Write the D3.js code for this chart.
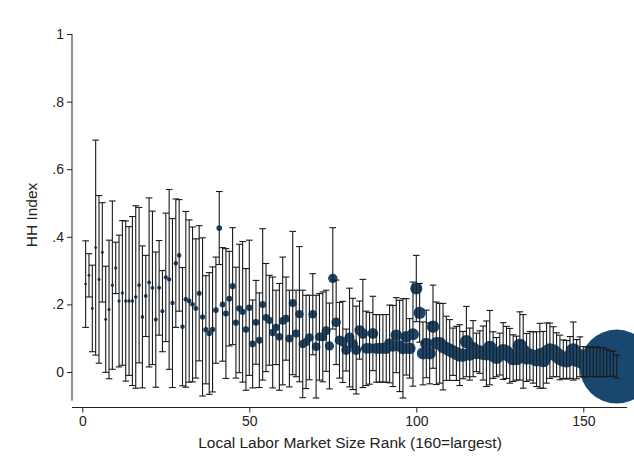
<!DOCTYPE html>
<html>
<head>
<meta charset="utf-8">
<script src="https://cdn.jsdelivr.net/npm/d3@7/dist/d3.min.js"></script>
<style>
  html, body { margin: 0; padding: 0; background: #fff; }
  svg { display: block; }
  text { font-family: "Liberation Sans", Arial, Helvetica, sans-serif; fill: #222; }
</style>
</head>
<body>
<svg id="chart" width="634" height="466"></svg>
<script>
// ---- data (rank 1..160) ----
const means = [
0.26,0.286,0.188,0.368,0.274,0.354,0.156,0.185,0.257,0.308,
0.21,0.234,0.21,0.21,0.21,0.222,0.257,0.163,0.225,0.265,
0.249,0.155,0.249,0.18,0.28,0.274,0.204,0.322,0.345,0.134,
0.215,0.21,0.2,0.188,0.233,0.163,0.125,0.114,0.126,0.183,
0.426,0.2,0.173,0.217,0.254,0.146,0.188,0.178,0.126,0.19,
0.083,0.147,0.094,0.2,0.161,0.153,0.117,0.132,0.104,0.151,
0.158,0.099,0.204,0.114,0.171,0.083,0.089,0.102,0.171,0.075,
0.104,0.104,0.122,0.077,0.277,0.147,0.094,0.089,0.065,0.102,
0.083,0.065,0.124,0.114,0.07,0.07,0.114,0.07,0.07,0.07,
0.07,0.083,0.077,0.109,0.077,0.07,0.104,0.07,0.112,0.247,
0.175,0.055,0.083,0.055,0.134,0.085,0.085,0.075,0.07,0.065,
0.06,0.055,0.05,0.05,0.09,0.053,0.069,0.058,0.059,0.056,
0.054,0.072,0.05,0.044,0.053,0.062,0.058,0.048,0.041,0.041,
0.077,0.061,0.043,0.048,0.043,0.038,0.048,0.036,0.056,0.063,
0.06,0.051,0.043,0.038,0.036,0.043,0.062,0.038,0.045,0.03,
0.03,0.031,0.03,0.03,0.029,0.029,0.027,0.025,0.024,0.016
];
// half-width of the confidence interval
const halfWidths = [
0.128,0.064,0.128,0.318,0.248,0.147,0.157,0.205,0.249,0.076,
0.195,0.214,0.237,0.22,0.25,0.27,0.23,0.21,0.12,0.25,
0.227,0.2,0.14,0.12,0.19,0.266,0.25,0.19,0.165,0.175,
0.26,0.24,0.229,0.206,0.2,0.234,0.16,0.18,0.185,0.157,
0.108,0.168,0.192,0.14,0.173,0.164,0.19,0.208,0.18,0.2,
0.13,0.124,0.14,0.224,0.16,0.133,0.164,0.11,0.158,0.189,
0.123,0.143,0.212,0.128,0.2,0.159,0.138,0.125,0.12,0.152,
0.128,0.133,0.12,0.127,0.15,0.125,0.112,0.12,0.062,0.146,
0.135,0.13,0.086,0.16,0.11,0.106,0.11,0.1,0.1,0.1,
0.1,0.115,0.12,0.111,0.135,0.147,0.113,0.088,0.154,0.098,
0.087,0.093,0.1,0.09,0.123,0.122,0.118,0.128,0.095,0.09,
0.07,0.08,0.09,0.07,0.104,0.077,0.083,0.057,0.063,0.08,
0.097,0.11,0.069,0.058,0.062,0.084,0.077,0.081,0.069,0.065,
0.101,0.109,0.071,0.072,0.076,0.081,0.096,0.084,0.089,0.082,
0.074,0.065,0.066,0.057,0.057,0.062,0.086,0.058,0.059,0.045,
0.044,0.044,0.043,0.044,0.043,0.043,0.04,0.038,0.037,0.034
];
// relative market size (marker area weight)
const weights = [
2.0,2.1,2.1,2.2,2.3,2.3,2.4,2.5,2.5,2.6,
2.7,2.8,2.9,3.0,3.1,3.2,3.3,3.4,3.6,3.7,
3.8,4.0,4.1,4.3,4.4,4.6,4.8,5.0,5.2,5.4,
5.6,5.8,6.0,6.2,6.5,6.7,7.0,7.2,7.5,7.8,
8.1,8.4,8.7,9.0,9.3,9.6,10,10.3,10.6,11,
11.3,11.7,12,12.4,12.8,13.2,13.6,14,14.4,14.8,
15.2,15.6,16,16.4,16.9,17.3,17.8,18.2,18.7,19.2,
19.7,20.2,20.7,21.2,21.8,22.3,22.9,23.4,24,24.6,
25.2,25.8,26.4,27,27.6,28.2,28.8,29.4,30,30.6,
31.2,31.8,32.4,33,33.6,34.2,34.8,35.4,36,36.6,
37,37.5,38,38.5,39,39.5,40,40.5,41,41.5,
42,42.5,43,43.5,44,44.5,45,45.5,46,46.5,
47,47.5,48,48.5,49,49.5,50,50.5,51,51.5,
52,52.5,53,53.5,54,54.5,55,55.5,56,56.5,
57,57.5,58,58.5,59,59.5,60,60.5,61,62,
63,64,65,66,67,68,69,70,72,1369
];
const xTicks = [0, 50, 100, 150];
const yTicks = [0, 0.2, 0.4, 0.6, 0.8, 1];
const yTickLabels = ["0", ".2", ".4", ".6", ".8", "1"];
const xTitle = "Local Labor Market Size Rank (160=largest)";
const yTitle = "HH Index";

const data = means.map((m, i) => ({ rank: i + 1, m, lo: m - halfWidths[i], hi: m + halfWidths[i], w: weights[i] }));

// ---- layout ----
const svg = d3.select("#chart");
const x = d3.scaleLinear().domain([0, 160]).range([82.3, 616.7]);
const y = d3.scaleLinear().domain([0, 1]).range([372, 34]);
const r = d3.scaleSqrt().domain([0, 1369]).range([0, 37]);
const navy = "#1a476f";

// markers (drawn first, error bars on top)
svg.append("g").selectAll("circle").data(data).join("circle")
  .attr("cx", d => x(d.rank))
  .attr("cy", d => y(d.m))
  .attr("r", d => r(d.w))
  .attr("fill", navy);

// error bars
const eb = svg.append("g").attr("stroke", "#1a1a1a").attr("stroke-width", 1.1).attr("fill", "none");
const capW = 3.3;
eb.selectAll("line.v").data(data).join("line").attr("class", "v")
  .attr("x1", d => x(d.rank)).attr("x2", d => x(d.rank))
  .attr("y1", d => y(d.lo)).attr("y2", d => y(d.hi));
eb.selectAll("line.t").data(data).join("line").attr("class", "t")
  .attr("x1", d => x(d.rank) - capW).attr("x2", d => x(d.rank) + capW)
  .attr("y1", d => y(d.hi)).attr("y2", d => y(d.hi));
eb.selectAll("line.b").data(data).join("line").attr("class", "b")
  .attr("x1", d => x(d.rank) - capW).attr("x2", d => x(d.rank) + capW)
  .attr("y1", d => y(d.lo)).attr("y2", d => y(d.lo));

// y axis
const yAxis = d3.axisLeft(y).tickValues(yTicks).tickSize(5).tickPadding(3)
  .tickFormat((d, i) => yTickLabels[i]);
const gy = svg.append("g").attr("transform", "translate(72,0)").call(yAxis);
gy.select(".domain").attr("d", `M0,${y(1)}V${y(-0.085)}`).attr("stroke", "#222");
gy.selectAll(".tick line").attr("stroke", "#222");
gy.selectAll(".tick text").style("font-size", "14px").attr("fill", "#222");

// x axis
const xAxis = d3.axisBottom(x).tickValues(xTicks).tickSize(5).tickPadding(4);
const gx = svg.append("g").attr("transform", "translate(0,407.5)").call(xAxis);
gx.select(".domain").attr("d", `M72,0H627`).attr("stroke", "#222");
gx.selectAll(".tick line").attr("stroke", "#222");
gx.selectAll(".tick text").style("font-size", "14px").attr("fill", "#222");

// titles
svg.append("text").attr("x", 350).attr("y", 448).attr("text-anchor", "middle")
  .style("font-size", "15.5px").text(xTitle);
svg.append("text").attr("transform", "translate(37,215) rotate(-90)").attr("text-anchor", "middle")
  .style("font-size", "15.5px").text(yTitle);
</script>
</body>
</html>
